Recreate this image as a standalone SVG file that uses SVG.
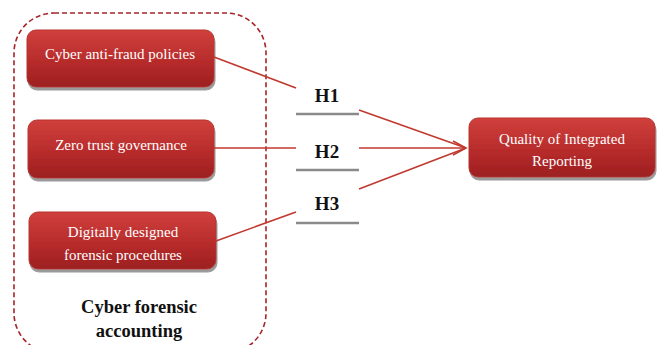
<svg xmlns="http://www.w3.org/2000/svg" width="657" height="345" viewBox="0 0 657 345">
<defs>
<linearGradient id="g" x1="0" y1="0" x2="0" y2="1">
<stop offset="0" stop-color="#d0403c"/>
<stop offset="0.6" stop-color="#b52a2a"/>
<stop offset="1" stop-color="#9c1f20"/>
</linearGradient>
<marker id="arr" markerWidth="16" markerHeight="16" refX="14" refY="8" orient="auto" markerUnits="userSpaceOnUse">
<path d="M1,1 L14,8 L1,15" fill="none" stroke="#c0392f" stroke-width="1.6"/>
</marker>
<filter id="sh" x="-5%" y="-10%" width="110%" height="130%">
<feOffset dx="1" dy="3" in="SourceAlpha" result="o"/>
<feFlood flood-color="#9a9a9a"/>
<feComposite in2="o" operator="in" result="s"/>
<feMerge><feMergeNode in="s"/><feMergeNode in="SourceGraphic"/></feMerge>
</filter>
</defs>
<style>
.box{fill:url(#g);stroke:#b8322e;stroke-width:1;filter:url(#sh)}
.bt{font-family:"Liberation Serif",serif;font-size:15px;fill:#fff;text-anchor:middle}
.h{font-family:"Liberation Serif",serif;font-size:19px;font-weight:bold;fill:#111;text-anchor:middle}
.ul{stroke:#8a8a8a;stroke-width:2.5}
.c{stroke:#c0392f;stroke-width:1.6;fill:none}
.lbl{font-family:"Liberation Serif",serif;font-size:18.5px;font-weight:bold;fill:#111;text-anchor:middle}
</style>
<rect width="657" height="345" fill="#fff"/>
<g id="container">
<rect x="14" y="13" width="252" height="340" rx="40" fill="none" stroke="#a5262a" stroke-width="1.6" stroke-dasharray="5,3"/>
<text class="lbl" x="139" y="313">Cyber forensic</text>
<text class="lbl" x="139" y="337">accounting</text>
</g>
<g id="n1"><rect class="box" x="27" y="30" width="187" height="57" rx="9"/><text class="bt" x="120" y="59">Cyber anti-fraud policies</text></g>
<g id="n2"><rect class="box" x="28" y="120" width="186" height="58" rx="9"/><text class="bt" x="121" y="150">Zero trust governance</text></g>
<g id="n3"><rect class="box" x="29" y="212" width="187" height="57" rx="9"/><text class="bt" x="123" y="237">Digitally designed</text><text class="bt" x="123" y="260">forensic procedures</text></g>
<g id="n4"><rect class="box" x="469" y="118" width="186" height="59" rx="9"/><text class="bt" x="562" y="144">Quality of Integrated</text><text class="bt" x="562" y="166">Reporting</text></g>
<g id="h1"><text class="h" x="327" y="102">H1</text><line class="ul" x1="296" y1="114" x2="359" y2="114"/></g>
<g id="h2"><text class="h" x="327" y="158">H2</text><line class="ul" x1="296" y1="170" x2="359" y2="170"/></g>
<g id="h3"><text class="h" x="327" y="210">H3</text><line class="ul" x1="296" y1="223" x2="359" y2="223"/></g>
<g id="connectors">
<line class="c" x1="214" y1="57" x2="296" y2="88"/>
<line class="c" x1="214" y1="148" x2="296" y2="148"/>
<line class="c" x1="216" y1="241" x2="296" y2="212"/>
<line class="c" x1="359" y1="110" x2="466" y2="148"/>
<line class="c" x1="359" y1="148" x2="466" y2="148" marker-end="url(#arr)"/>
<line class="c" x1="359" y1="189" x2="466" y2="148"/>
</g>
</svg>
